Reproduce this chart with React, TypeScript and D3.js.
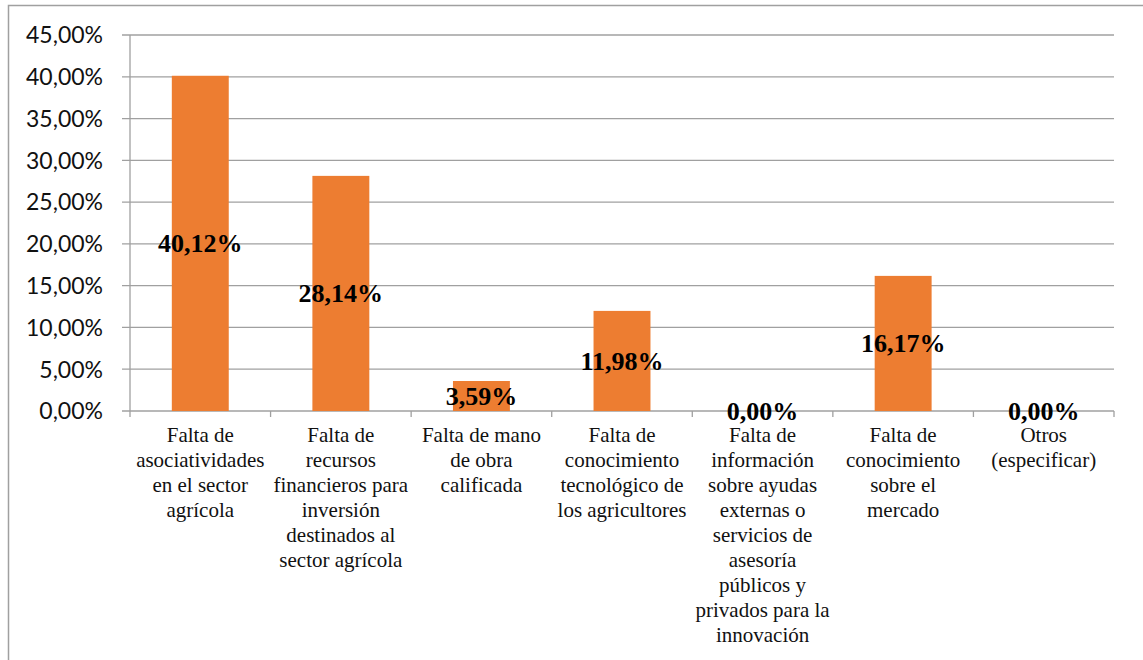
import React from 'react';
import * as d3 from 'd3';

// category labels, already broken into lines as in the original chart
const categories = [
  ['Falta de', 'asociatividades', 'en el sector', 'agrícola'],
  ['Falta de', 'recursos', 'financieros para', 'inversión', 'destinados al', 'sector agrícola'],
  ['Falta de mano', 'de obra', 'calificada'],
  ['Falta de', 'conocimiento', 'tecnológico de', 'los agricultores'],
  ['Falta de', 'información', 'sobre ayudas', 'externas o', 'servicios de', 'asesoría', 'públicos y', 'privados para la', 'innovación'],
  ['Falta de', 'conocimiento', 'sobre el', 'mercado'],
  ['Otros', '(especificar)'],
];
const values = [40.12, 28.14, 3.59, 11.98, 0, 16.17, 0];
const yTicks = [0, 5, 10, 15, 20, 25, 30, 35, 40, 45];

const fmt = (v: number) => v.toFixed(2).replace('.', ',') + '%';

const W = 1143, H = 660;
const left = 130, right = 1114, top = 35, bottom = 411;
const grey = '#a0a0a0';

const App = () => {
  const idx = categories.map((_, i) => String(i));
  const x = d3.scaleBand().domain(idx).range([left, right]).padding(0);
  const y = d3.scaleLinear().domain([0, 45]).range([bottom, top]);
  const barW = x.bandwidth() * 0.405;
  const cx = (i: number) => (x(String(i)) as number) + x.bandwidth() / 2;
  const bounds = idx.map(d => x(d) as number).concat([right]);

  return (
    <svg width={W} height={H} style={{ position: 'absolute', left: 0, top: 0 }}>
      {/* outer chart frame, right and bottom edges fall outside the picture */}
      <rect x={8.5} y={5.5} width={1200} height={700} fill="white" stroke={grey} strokeWidth={1.5} />

      {yTicks.map(t => (
        <g key={t}>
          <line x1={left - 8} x2={right} y1={y(t)} y2={y(t)} stroke={grey} strokeWidth={1.3} />
          <text x={103} y={y(t)} dy="0.36em" textAnchor="end" fontFamily="Lato" fontSize={23} fill="#111">
            {fmt(t)}
          </text>
        </g>
      ))}

      <line x1={left} x2={left} y1={top} y2={bottom} stroke={grey} strokeWidth={1.3} />
      {bounds.map((b, i) => (
        <line key={i} x1={b} x2={b} y1={bottom} y2={bottom + 6} stroke={grey} strokeWidth={1.3} />
      ))}

      {values.map((v, i) => (
        <rect key={i} x={cx(i) - barW / 2} y={y(v)} width={barW} height={bottom - y(v)} fill="#ED7D31" />
      ))}

      {/* value labels centred on the middle of each bar */}
      {values.map((v, i) => (
        <text key={i} x={cx(i)} y={(y(v) + bottom) / 2 + 9} textAnchor="middle"
          fontFamily="Liberation Serif" fontWeight="bold" fontSize={26} fill="#000">
          {fmt(v)}
        </text>
      ))}

      {categories.map((lines, i) => (
        <text key={i} textAnchor="middle" fontFamily="Liberation Serif" fontSize={21} fill="#111">
          {lines.map((l, j) => (
            <tspan key={j} x={cx(i)} y={442 + j * 25}>{l}</tspan>
          ))}
        </text>
      ))}
    </svg>
  );
};

export default App;
